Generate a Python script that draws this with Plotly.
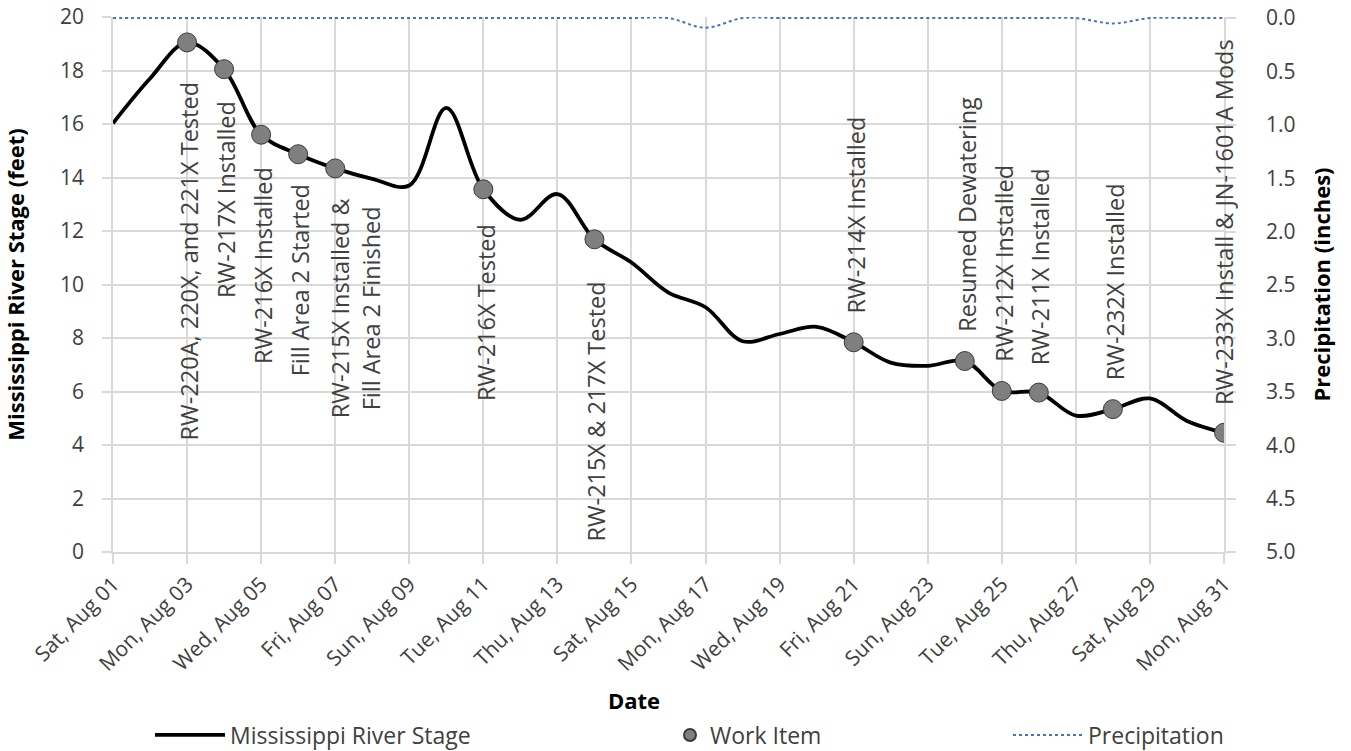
import plotly.graph_objects as go
import pandas as pd

# ---- data ----
dates = pd.date_range("2020-08-01", "2020-08-31", freq="D")
stage_ft = [16.03, 17.7, 19.05, 18.05, 15.6, 14.87, 14.34, 13.95, 13.7, 16.6,
            13.56, 12.42, 13.38, 11.69, 10.82, 9.7, 9.15, 7.88, 8.15, 8.42,
            7.84, 7.08, 6.96, 7.14, 6.02, 5.96, 5.1, 5.34, 5.74, 4.9, 4.46]
precip_in = [0, 0, 0, 0, 0, 0, 0, 0, 0, 0,
             0, 0, 0, 0, 0, 0, 0.09, 0, 0, 0,
             0, 0, 0, 0, 0, 0, 0, 0.05, 0, 0, 0]
work_days = ["2020-08-03", "2020-08-04", "2020-08-05", "2020-08-06", "2020-08-07",
             "2020-08-11", "2020-08-14", "2020-08-21", "2020-08-24", "2020-08-25",
             "2020-08-26", "2020-08-28", "2020-08-31"]
work_labels = ["RW-220A, 220X, and 221X Tested", "RW-217X Installed", "RW-216X Installed",
               "Fill Area 2 Started", "RW-215X Installed &<br>Fill Area 2 Finished",
               "RW-216X Tested", "RW-215X & 217X Tested", "RW-214X Installed",
               "Resumed Dewatering", "RW-212X Installed", "RW-211X Installed",
               "RW-232X Installed", "RW-233X Install & JN-1601A Mods"]

# label placement (bottom of the rotated label, in feet) and horizontal nudge
label_base_ft = [4.10, 9.41, 6.94, 6.50, 4.93, 5.56, 0.33, 8.85, 8.17, 7.05, 6.92, 6.36, 5.42]
label_xshift = [2, 2, 2, 2, 20, 2, 2, 2, 2, 2, 2, 2, 0]

stage_series = pd.Series(stage_ft, index=dates)
work_dt = pd.to_datetime(work_days)
work_stage = [stage_series[d] for d in work_dt]

FONT = "Open Sans"
TXT = "#404040"
GRID = "#d9d9d9"

fig = go.Figure()
fig.add_trace(go.Scatter(
    x=dates, y=stage_ft, name="Mississippi River Stage", mode="lines",
    line=dict(color="black", width=3.8, shape="spline", smoothing=1.0),
    legend="legend", hoverinfo="x+y"))
fig.add_trace(go.Scatter(
    x=work_dt, y=work_stage, name="Work Item", mode="markers",
    marker=dict(size=19, color="#7f7f7f", line=dict(color="#3a3a3a", width=1)),
    legend="legend2"))
fig.add_trace(go.Scatter(
    x=dates, y=precip_in, name="Precipitation", mode="lines", yaxis="y2",
    line=dict(color="#4472C4", width=2, dash="dot", shape="spline", smoothing=1.0),
    legend="legend3"))

for d, lab, base, xs in zip(work_dt, work_labels, label_base_ft, label_xshift):
    fig.add_annotation(x=d, y=base, text=lab, textangle=-90, showarrow=False,
                       xanchor="center", yanchor="bottom", xshift=xs,
                       font=dict(family=FONT, size=23.5, color=TXT), align="center")

fig.add_annotation(text="<b>Date</b>", xref="paper", yref="paper", x=(634 - 113) / 1111,
                   y=-148 / 535, showarrow=False, yanchor="middle", xanchor="center",
                   font=dict(family=FONT, size=22, color="black"))

legend_common = dict(orientation="h", xref="container", yref="container",
                     yanchor="middle", y=1 - 735 / 751, bgcolor="rgba(0,0,0,0)",
                     font=dict(family=FONT, size=23, color=TXT))
fig.update_layout(
    width=1351, height=751,
    margin=dict(l=113, r=127, t=17, b=199, autoexpand=False),
    paper_bgcolor="white", plot_bgcolor="white",
    font=dict(family=FONT, size=21, color=TXT),
    showlegend=True,
    legend=dict(x=150 / 1351, xanchor="left", itemwidth=70, **legend_common),
    legend2=dict(x=670 / 1351, xanchor="left", itemsizing="constant", **legend_common),
    legend3=dict(x=1008 / 1351, xanchor="left", itemwidth=70, **legend_common),
    xaxis=dict(type="date", range=["2020-08-01", "2020-08-31"], automargin=False,
               tick0="2020-08-01", dtick=2 * 86400000, tickformat="%a, %b %d",
               tickangle=-45, showgrid=True, gridcolor=GRID, gridwidth=1.5,
               showline=True, linecolor=GRID, linewidth=1.5,
               ticks="outside", ticklen=10, tickcolor=GRID, tickwidth=1.5,
               tickfont=dict(family=FONT, size=21, color=TXT), zeroline=False),
    yaxis=dict(range=[0, 20], dtick=2, showgrid=True, gridcolor=GRID, gridwidth=1.5,
               showline=True, linecolor=GRID, linewidth=1.5, automargin=False,
               ticks="outside", ticklen=9, tickcolor=GRID, tickwidth=1.5,
               ticklabelstandoff=14, zeroline=False,
               tickfont=dict(family=FONT, size=21, color=TXT),
               title=dict(text="<b>Mississippi River Stage (feet)</b>", standoff=29,
                          font=dict(family=FONT, size=22, color="black"))),
    yaxis2=dict(range=[5, -0.01], dtick=0.5, tick0=0, tickformat=".1f", overlaying="y",
                side="right",
                showgrid=False, showline=True, linecolor=GRID, linewidth=1.5,
                automargin=False,
                ticks="outside", ticklen=10, tickcolor=GRID, tickwidth=1.5,
                ticklabelstandoff=26, zeroline=False,
                tickfont=dict(family=FONT, size=21, color=TXT),
                title=dict(text="<b>Precipitation (inches)</b>", standoff=20,
                           font=dict(family=FONT, size=22, color="black"))),
)

fig.write_html("out.html", config={"displayModeBar": False},
               post_script="document.body.style.margin='0';document.body.style.overflow='hidden';")
